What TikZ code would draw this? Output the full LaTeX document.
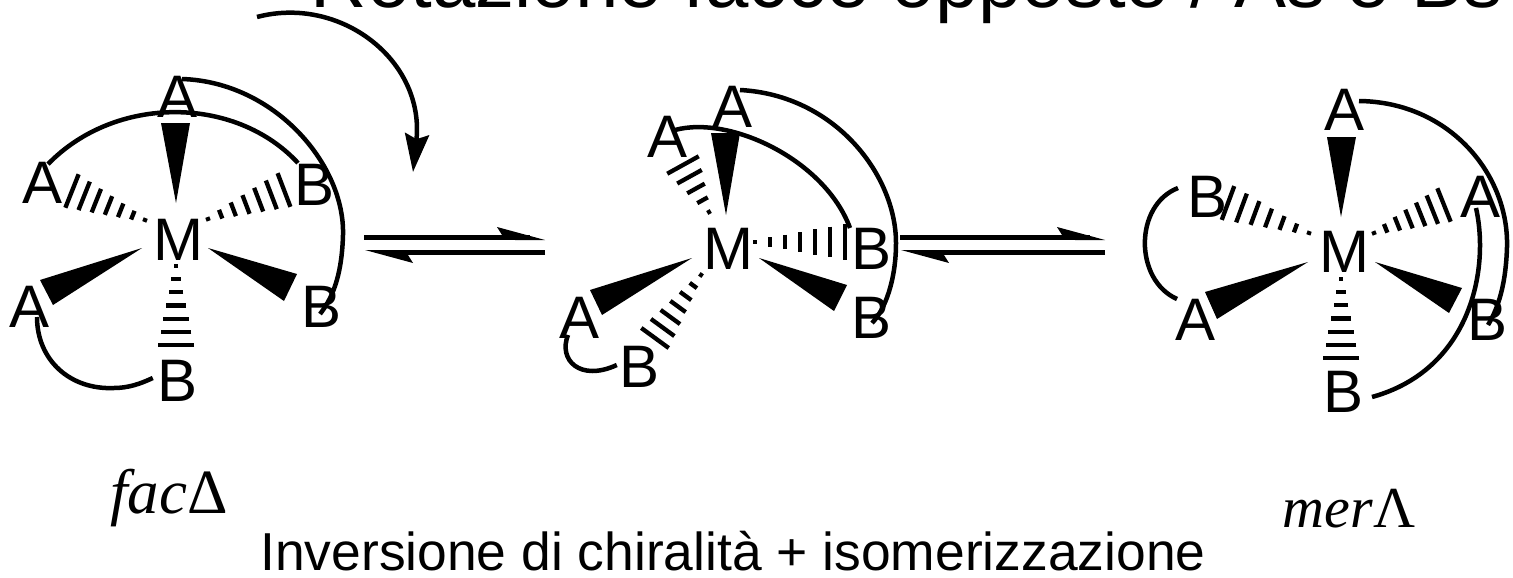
\documentclass[tikz,border=0pt]{standalone}
\usepackage{fontspec}
\setmainfont{Liberation Sans}
\newfontfamily\timesfont{Liberation Serif}
\usetikzlibrary{calc,arrows.meta}
\newcommand{\hashbond}[4]{% tip, base, half width at base, bars
	\coordinate (hfar) at ($(#1)!2!(#2)$);
	\foreach \t in {1,...,#4} {
		\coordinate (hp) at ($(#1)!{(\t-1)/(#4-1)}!(#2)$);
		\pgfmathsetmacro{\wbar}{2+#3*(\t-1)/(#4-1)}
		\draw[line width=4.3pt] ($(hp)!\wbar pt!90:(hfar)$) -- ($(hp)!\wbar pt!-90:(hfar)$);
	}
}
\tikzset{
	ligand/.style={inner sep=0pt, font=\fontsize{60}{60}\selectfont},
	caption/.style={inner sep=0pt, anchor=base, font=\fontsize{53.4}{54}\selectfont},
	isomer/.style={inner sep=0pt, anchor=base, font=\timesfont\fontsize{60}{60}\selectfont},
	curve/.style={line width=4.5pt},
	eqline/.style={line width=5pt}
}

\begin{document}
\begin{tikzpicture}[x=1pt,y=-1pt]
	\useasboundingbox (0,0) rectangle (1513,578);
	\node[caption, font=\fontsize{78}{78}\selectfont] (rotation) at (907,8) {Rotazione facce opposte / As e Bs};
	\node[caption] (inversion) at (733,570) {Inversione di chiralità + isomerizzazione};
	\node[isomer, font=\timesfont\fontsize{63}{63}\selectfont] (fac) at (169,513) {\textit{fac}Δ};
	\node[isomer, font=\timesfont\fontsize{58}{58}\selectfont] (mer) at (1349,527) {\textit{mer}Λ};
	% first isomer
	\node[ligand] (m1) at (178,240) {M};
	\node[ligand] (a1t) at (178,97) {A};
	\node[ligand] (a1l) at (43,183) {A};
	\node[ligand] (a1d) at (30,307) {A};
	\node[ligand] (b1r) at (315,185) {B};
	\node[ligand] (b1d) at (322,307) {B};
	\node[ligand] (b1b) at (178,381) {B};
	\fill (176,203) -- (161,123) -- (190,123) -- cycle;
	\fill (142,248) -- (40,280) -- (53,305) -- cycle;
	\fill (208,248) -- (297,274) -- (284,301) -- cycle;
	\coordinate (h1) at (145,220); \coordinate (h1e) at (72,191);
	\hashbond{h1}{h1e}{16}{7}
	\coordinate (h2) at (208,219); \coordinate (h2e) at (284,190);
	\hashbond{h2}{h2e}{16}{7}
	\coordinate (h3) at (176,266); \coordinate (h3e) at (176,345);
	\hashbond{h3}{h3e}{16}{7}
	\draw[curve] ([shift={(4,-18)}]a1t.center) .. controls (275,82) and (345,165) .. (343,235) .. controls (342,270) and (335,295) .. ([shift={(-2,7)}]b1d.center);
	\draw[curve] ([shift={(5,2)}]a1l.north) .. controls (115,95) and (235,95) .. ([shift={(-17,-22)}]b1r.center);
	\draw[curve] ([shift={(7,10)}]a1d.center) .. controls (37,360) and (70,390) .. (114,388) .. controls (128,388) and (140,384) .. ([shift={(-5,-3)}]b1b.west);
	\coordinate (rotstart) at (257,17); \coordinate (rotend) at (413,172);
	\draw[curve,-{Stealth[length=38pt,width=24pt,inset=5pt]}] (rotstart) .. controls (340,-5) and (425,60) .. (rotend);
	% first equilibrium
	\coordinate (e1a) at (364,237); \coordinate (e1b) at (530,237);
	\coordinate (e1c) at (545,252); \coordinate (e1d) at (385,252);
	\draw[eqline] (e1a) -- (e1b);
	\draw[eqline] (e1c) -- (e1d);
	\fill (545,240) -- (515,240) -- (502,235) -- (497,227) -- cycle;
	\fill (365,250) -- (395,250) -- (408,255) -- (413,263) -- cycle;
	% second isomer
	\node[ligand] (m2) at (728,249) {M};
	\node[ligand] (a2t) at (733,107) {A};
	\node[ligand] (a2l) at (668,137) {A};
	\node[ligand] (a2d) at (580,318) {A};
	\node[ligand] (b2r) at (872,249) {B};
	\node[ligand] (b2d) at (872,318) {B};
	\node[ligand] (b2b) at (640,367) {B};
	\fill (726,215) -- (711,133) -- (740,133) -- cycle;
	\fill (692,258) -- (590,290) -- (602,315) -- cycle;
	\fill (759,258) -- (847,285) -- (834,311) -- cycle;
	\coordinate (h4) at (709,212); \coordinate (h4e) at (683,165);
	\hashbond{h4}{h4e}{16}{5}
	\coordinate (h5) at (755,242); \coordinate (h5e) at (845,242);
	\hashbond{h5}{h5e}{16}{7}
	\coordinate (h6) at (701,275); \coordinate (h6e) at (655,338);
	\hashbond{h6}{h6e}{15}{7}
	\draw[curve] ([shift={(7,-17)}]a2t.center) .. controls (835,95) and (896,175) .. (896,243) .. controls (896,280) and (885,310) .. ([shift={(0,5)}]b2d.center);
	\draw[curve] ([shift={(7,-7)}]a2l.center) .. controls (730,115) and (825,160) .. ([shift={(-22,-21)}]b2r.center);
	\draw[curve] ([shift={(-12,17)}]a2d.center) .. controls (558,360) and (580,382) .. ([shift={(-3,-2)}]b2b.west);
	% second equilibrium
	\coordinate (e2a) at (900,237); \coordinate (e2b) at (1090,237);
	\coordinate (e2c) at (1105,252); \coordinate (e2d) at (921,252);
	\draw[eqline] (e2a) -- (e2b);
	\draw[eqline] (e2c) -- (e2d);
	\fill (1105,240) -- (1075,240) -- (1062,235) -- (1057,227) -- cycle;
	\fill (901,250) -- (931,250) -- (944,255) -- (949,263) -- cycle;
	% third isomer
	\node[ligand] (m3) at (1344,252) {M};
	\node[ligand] (a3t) at (1344,110) {A};
	\node[ligand] (a3r) at (1480,197) {A};
	\node[ligand] (a3d) at (1195,320) {A};
	\node[ligand] (b3l) at (1207,197) {B};
	\node[ligand] (b3d) at (1487,320) {B};
	\node[ligand] (b3b) at (1343,392) {B};
	\fill (1341,217) -- (1327,137) -- (1356,137) -- cycle;
	\fill (1308,262) -- (1205,292) -- (1217,319) -- cycle;
	\fill (1375,262) -- (1462,288) -- (1449,313) -- cycle;
	\coordinate (h7) at (1309,233); \coordinate (h7e) at (1228,203);
	\hashbond{h7}{h7e}{16}{7}
	\coordinate (h8) at (1374,233); \coordinate (h8e) at (1444,205);
	\hashbond{h8}{h8e}{16}{7}
	\coordinate (h9) at (1341,279); \coordinate (h9e) at (1341,358);
	\hashbond{h9}{h9e}{16}{7}
	\draw[curve] ([shift={(15,-9)}]a3t.center) .. controls (1450,102) and (1509,175) .. (1507,247) .. controls (1506,280) and (1500,305) .. ([shift={(1,5)}]b3d.center);
	\draw[curve] ([shift={(-4,11)}]a3r.center) .. controls (1490,270) and (1470,370) .. ([shift={(29,5)}]b3b.center);
	\draw[curve] ([shift={(-29,-9)}]b3l.center) .. controls (1134,205) and (1134,280) .. ([shift={(-18,-21)}]a3d.center);
\end{tikzpicture}
\end{document}
